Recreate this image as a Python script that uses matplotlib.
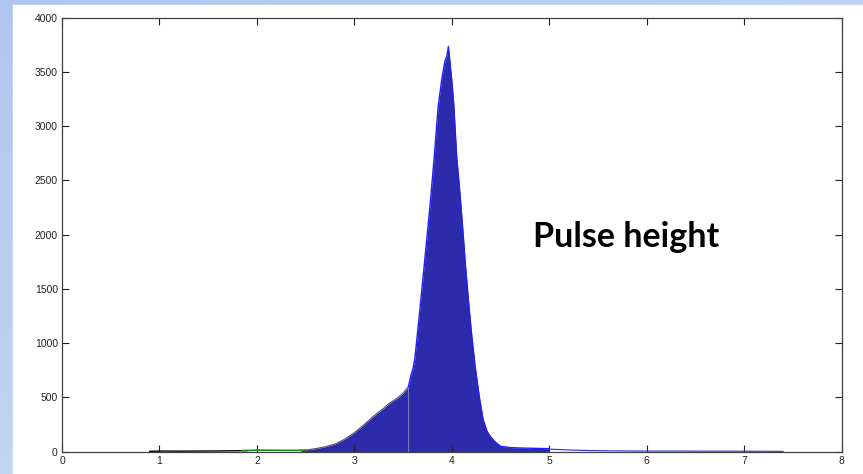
import matplotlib.pyplot as plt
import numpy as np
from matplotlib.patches import Rectangle

# pulse height histogram (bin centre, counts)
tail_x = [2.45, 2.50, 2.60, 2.70, 2.80, 2.90, 3.00, 3.10, 3.20, 3.30, 3.35, 3.40, 3.45, 3.50, 3.555]
tail_y = [8, 15, 28, 45, 70, 115, 175, 250, 330, 400, 440, 470, 500, 540, 600]

peak_x = [3.555, 3.58, 3.60, 3.62, 3.66, 3.70, 3.74, 3.78, 3.82, 3.86, 3.90, 3.93, 3.95, 3.965,
          3.98, 4.00, 4.02, 4.05, 4.08, 4.11, 4.14, 4.17, 4.20, 4.24, 4.28, 4.32, 4.36, 4.40,
          4.45, 4.50, 4.60, 4.70, 4.80, 4.90, 5.00, 5.001]
peak_y = [600, 700, 760, 850, 1200, 1560, 1930, 2300, 2720, 3180, 3450, 3600, 3650, 3735,
          3600, 3420, 3200, 2720, 2420, 2080, 1720, 1400, 1110, 780, 520, 300, 190, 135,
          85, 50, 38, 34, 32, 30, 28, 0]

black_x = [0.90, 1.00, 1.20, 1.40, 1.60, 1.80, 1.90]
black_y = [3, 6, 5, 6, 7, 9, 10]
green_x = [1.85, 2.00, 2.20, 2.40, 2.50]
green_y = [10, 14, 13, 12, 15]
high_x = [5.0, 5.2, 5.4, 5.6, 5.8, 6.0, 6.3, 6.6, 6.9, 7.2, 7.4]
high_y = [24, 16, 11, 8, 7, 6, 6, 5, 5, 4, 3]

xticks = np.arange(0, 9, 1)
yticks = np.arange(0, 4500, 500)

fig = plt.figure(figsize=(8.63, 4.74), dpi=100)

# slide background: bluish strip left and top
bg = fig.add_axes([0, 0, 1, 1])
gx, gy = np.meshgrid(np.linspace(0, 1, 200), np.linspace(0, 1, 200))
t = np.clip(0.5 * gx + 0.6 * gy, 0, 1)[..., None]
c0 = np.array([176, 198, 240]) / 255
c1 = np.array([202, 224, 240]) / 255
bg.imshow(c0 * (1 - t) + c1 * t, extent=[0, 1, 0, 1], aspect='auto', origin='upper')
bg.add_patch(Rectangle((13 / 863, 0), 1, 1 - 5 / 474, color='white'))
bg.set_xlim(0, 1)
bg.set_ylim(0, 1)
bg.axis('off')

ax = fig.add_axes([62 / 863, 1 - 451.7 / 474, 779.6 / 863, 434 / 474])
ax.fill_between(tail_x, tail_y, color='#2b2bab', lw=0)
ax.plot(tail_x, tail_y, color='#505060', lw=0.8)
ax.fill_between(peak_x, peak_y, color='#2b2bab', lw=0)
ax.plot(peak_x, peak_y, color='#1e1eff', lw=1.0)
ax.vlines(3.555, 0, 600, color='#7a7ab8', lw=0.8)
ax.plot(black_x, black_y, color='black', lw=1.0)
ax.plot(green_x, green_y, color='#1a8a1a', lw=1.2)
ax.plot(high_x, high_y, color='#2a2ad8', lw=0.8)

ax.set_xlim(0, 8)
ax.set_ylim(0, 4000)
ax.set_xticks(xticks)
ax.set_yticks(yticks)
ax.tick_params(direction='in', length=5, width=0.8, top=True, right=True,
               labelsize=7.5, colors='#222222', pad=3)
for lab in ax.get_xticklabels() + ax.get_yticklabels():
    lab.set_family('Liberation Sans')
for s in ax.spines.values():
    s.set_color('#404040')
    s.set_linewidth(0.9)

fig.text(533 / 863, 1 - 246.7 / 474, 'Pulse height', fontsize=24.5, fontweight='bold',
         family='Lato', ha='left', va='baseline')

plt.savefig('out.png', dpi=100)
